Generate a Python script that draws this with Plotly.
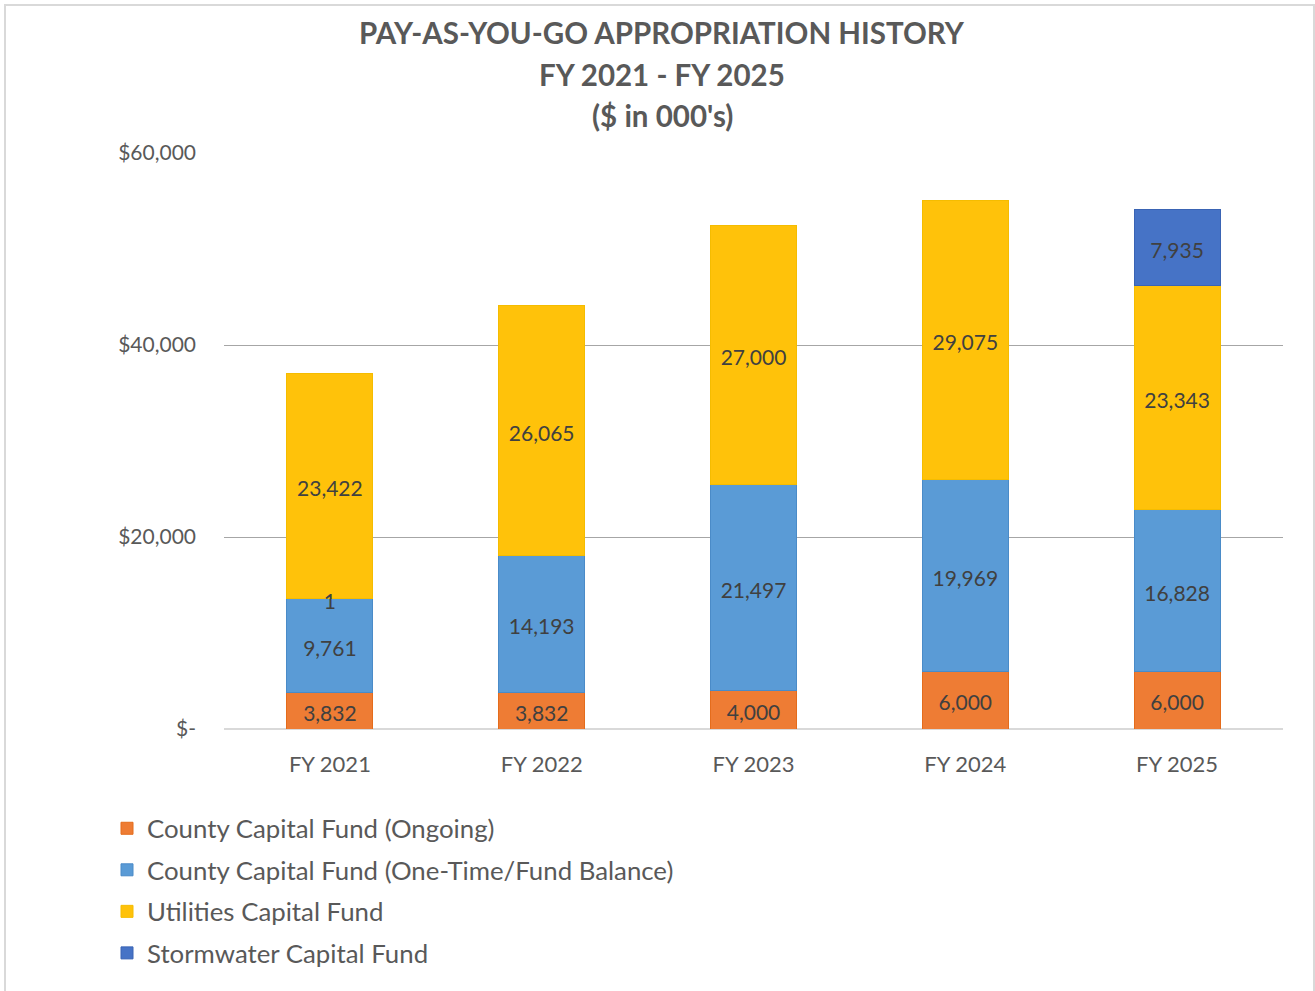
import plotly.graph_objects as go

categories = ["FY 2021", "FY 2022", "FY 2023", "FY 2024", "FY 2025"]
ongoing = [3832, 3832, 4000, 6000, 6000]
one_time = [9761, 14193, 21497, 19969, 16828]
extra = [1, None, None, None, None]  # small segment shown as "1" in FY 2021
utilities = [23422, 26065, 27000, 29075, 23343]
stormwater = [None, None, None, None, 7935]

title_lines = ["PAY-AS-YOU-GO APPROPRIATION HISTORY", "FY 2021 - FY 2025", "($ in 000's)"]

series = [
    ("County Capital Fund (Ongoing)", ongoing, "#EE7C34", "#E46C1C", True),
    ("County Capital Fund (One-Time/Fund Balance)", one_time, "#5A9BD6", "#4A8BC8", True),
    ("extra", extra, "#5A9BD6", "#5A9BD6", False),
    ("Utilities Capital Fund", utilities, "#FFC20A", "#F5BC00", True),
    ("Stormwater Capital Fund", stormwater, "#4673C6", "#3A64B4", True),
]

FONT = "Lato"
PW, PH = 1059, 576
YMAX = 60000
LABEL_SHIFT = 5 * YMAX / PH  # labels sit slightly below segment centres

fig = go.Figure()

base = [0] * len(categories)
lab_x, lab_y, lab_t = [], [], []
for i, (name, vals, col, lcol, show) in enumerate(series):
    fig.add_trace(go.Bar(
        x=categories, y=vals, name=name,
        marker=dict(color=col, line=dict(color=lcol, width=1)),
        showlegend=show, legendgroup=f"g{i}",
        hoverinfo="skip",
    ))
    for c, v, b in zip(categories, vals, base):
        if v:
            lab_x.append(c)
            lab_y.append(b + v / 2 - LABEL_SHIFT)
            lab_t.append(f"{v:,}")
    base = [b + (v or 0) for b, v in zip(base, vals)]

fig.add_trace(go.Scatter(
    x=lab_x, y=lab_y, text=lab_t, mode="text",
    textfont=dict(family=FONT, size=21, color="#404040"),
    showlegend=False, hoverinfo="skip",
))

annotations = []
for k, line in enumerate(title_lines):
    py = 32 + 42 * k
    annotations.append(dict(
        text=f"<b>{line}</b>", xref="paper", yref="paper",
        x=(662 - 224) / PW, y=(729 - py) / PH,
        xanchor="center", yanchor="middle", showarrow=False,
        font=dict(family=FONT, size=29.5, color="#595959"),
    ))

fig.update_layout(
    width=1315, height=991,
    barmode="stack", bargap=0.594,
    paper_bgcolor="white", plot_bgcolor="white",
    margin=dict(l=224, r=32, t=153, b=262, autoexpand=False),
    annotations=annotations,
    font=dict(family=FONT, color="#595959"),
    xaxis=dict(
        showgrid=False, showline=False, ticks="",
        ticklabelstandoff=20,
        tickfont=dict(family=FONT, size=22, color="#595959"),
    ),
    yaxis=dict(
        range=[0, YMAX],
        tickvals=[0, 20000, 40000, 60000],
        ticktext=["$-", "$20,000", "$40,000", "$60,000"],
        showgrid=True, gridcolor="#A6A6A6", gridwidth=1.3,
        zeroline=True, zerolinecolor="#D9D9D9", zerolinewidth=2,
        tickfont=dict(family=FONT, size=21, color="#595959"),
        ticks="", ticklabelstandoff=27,
    ),
    legend=dict(
        orientation="v", traceorder="grouped", tracegroupgap=5,
        x=(107 - 224) / PW, xanchor="left", y=(729 - 805) / PH, yanchor="top",
        font=dict(family=FONT, size=25.8, color="#595959"),
        itemwidth=30, bgcolor="rgba(0,0,0,0)",
    ),
    shapes=[dict(
        type="rect", xref="paper", yref="paper",
        x0=(5 - 224) / PW, x1=(1314 - 224) / PW,
        y0=(729 - 1000) / PH, y1=(729 - 5) / PH,
        line=dict(color="#D9D9D9", width=2),
    )],
)

fig.write_html(
    "out.html",
    config={"displayModeBar": False},
    post_script="document.body.style.margin='0';document.body.style.padding='0';",
)
